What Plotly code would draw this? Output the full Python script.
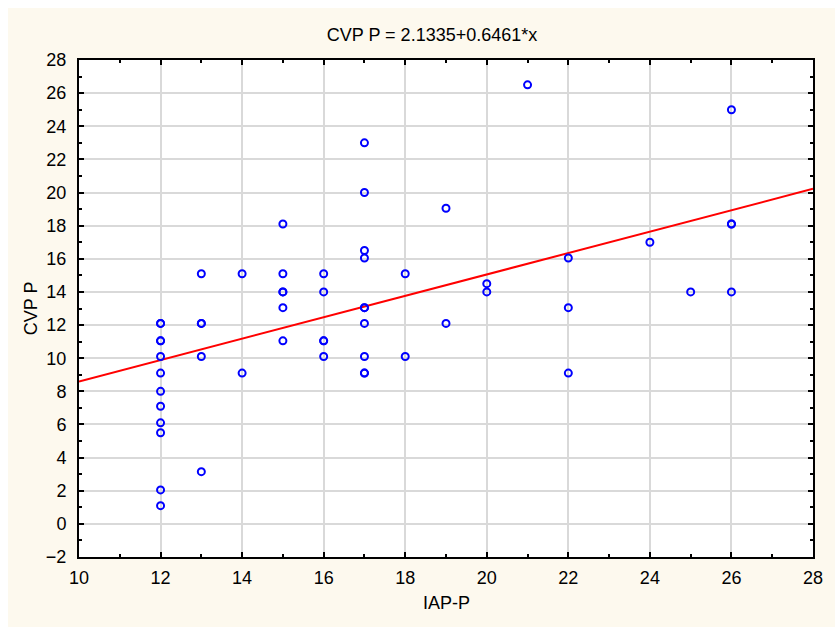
import plotly.graph_objects as go

# Data
iap_p = [12, 12, 12, 12, 12, 12, 12, 12, 12, 12, 12, 12,
         13, 13, 13, 13, 13,
         14, 14,
         15, 15, 15, 15, 15, 15,
         16, 16, 16, 16, 16,
         17, 17, 17, 17, 17, 17, 17, 17, 17, 17,
         18, 18,
         19, 19,
         20, 20,
         21,
         22, 22, 22,
         24,
         25,
         26, 26, 26, 26]
cvp_p = [12.1, 12.1, 11.05, 11.05, 10.1, 9.1, 8.0, 7.1, 6.1, 5.5, 2.05, 1.1,
         15.1, 12.1, 12.1, 10.1, 3.15,
         15.1, 9.1,
         18.1, 15.1, 14.0, 14.0, 13.05, 11.05,
         15.1, 14.0, 11.05, 11.05, 10.1,
         23.0, 20.0, 16.5, 16.05, 13.05, 13.05, 12.1, 10.1, 9.1, 9.1,
         15.1, 10.1,
         19.05, 12.1,
         14.5, 14.0,
         26.5,
         16.05, 13.05, 9.1,
         17.0,
         14.0,
         25.0, 18.1, 18.1, 14.0]

intercept = 2.1335
slope = 0.6461
x_range = [10, 28]
y_range = [-2, 28]
fit_x = x_range
fit_y = [intercept + slope * v for v in fit_x]

title_text = "CVP P = 2.1335+0.6461*x"
x_title = "IAP-P"
y_title = "CVP P"

W, H = 835, 627
L, R, T, B = 79, 12, 60, 70
pw = W - L - R
ph = H - T - B
cream = "#FDF9EE"
font_family = "Liberation Sans, Arial, sans-serif"
fs = 18

fig = go.Figure()
fig.add_trace(go.Scatter(x=fit_x, y=fit_y, mode="lines",
                         line=dict(color="#FF0000", width=2),
                         hoverinfo="skip", showlegend=False, cliponaxis=True))
fig.add_trace(go.Scatter(x=iap_p, y=cvp_p, mode="markers",
                         marker=dict(symbol="circle-open", size=7, color="#0000FF",
                                     line=dict(color="#0000FF", width=2)),
                         showlegend=False))

axis_common = dict(
    showline=True, linecolor="black", linewidth=2, mirror="allticks",
    ticks="inside", ticklen=5, tickwidth=1.5, tickcolor="black",
    showgrid=True, gridcolor="#D9D9D9", gridwidth=1.5,
    zeroline=False,
    tickfont=dict(family=font_family, size=fs, color="black"),
    minor=dict(dtick=1, ticks="inside", ticklen=3, tickwidth=1.5,
               tickcolor="black", showgrid=False),
)

fig.update_xaxes(range=x_range, dtick=2, tick0=10, ticklabelstandoff=3,
                 ticklabeloverflow="allow", **axis_common)
fig.update_yaxes(range=y_range, dtick=2, tick0=-2, ticklabelstandoff=7, **axis_common)

px2x = lambda p: (p - L) / pw
px2y = lambda p: (H - B - p) / ph

fig.update_layout(
    width=W, height=H,
    margin=dict(l=L, r=R, t=T, b=B, pad=0),
    paper_bgcolor=cream, plot_bgcolor="white",
    title=dict(text=title_text, x=432 / W, xanchor="center",
               y=1 - 35 / H, yanchor="middle",
               font=dict(family=font_family, size=fs, color="black")),
    font=dict(family=font_family, size=fs, color="black"),
    shapes=[
        dict(type="rect", xref="paper", yref="paper",
             x0=px2x(-20), x1=px2x(W + 20), y0=px2y(8), y1=px2y(-20),
             fillcolor="white", line=dict(width=0), layer="below"),
        dict(type="rect", xref="paper", yref="paper",
             x0=px2x(-20), x1=px2x(7), y0=px2y(H + 20), y1=px2y(-20),
             fillcolor="white", line=dict(width=0), layer="below"),
    ],
    annotations=[
        dict(text=x_title, xref="paper", yref="paper", x=0.5, y=px2y(603),
             xanchor="center", yanchor="middle", showarrow=False,
             font=dict(family=font_family, size=fs, color="black")),
        dict(text=y_title, xref="paper", yref="paper", x=px2x(30), y=0.5,
             xanchor="center", yanchor="middle", showarrow=False, textangle=-90,
             font=dict(family=font_family, size=fs, color="black")),
    ],
)

fig.write_html("out.html")
